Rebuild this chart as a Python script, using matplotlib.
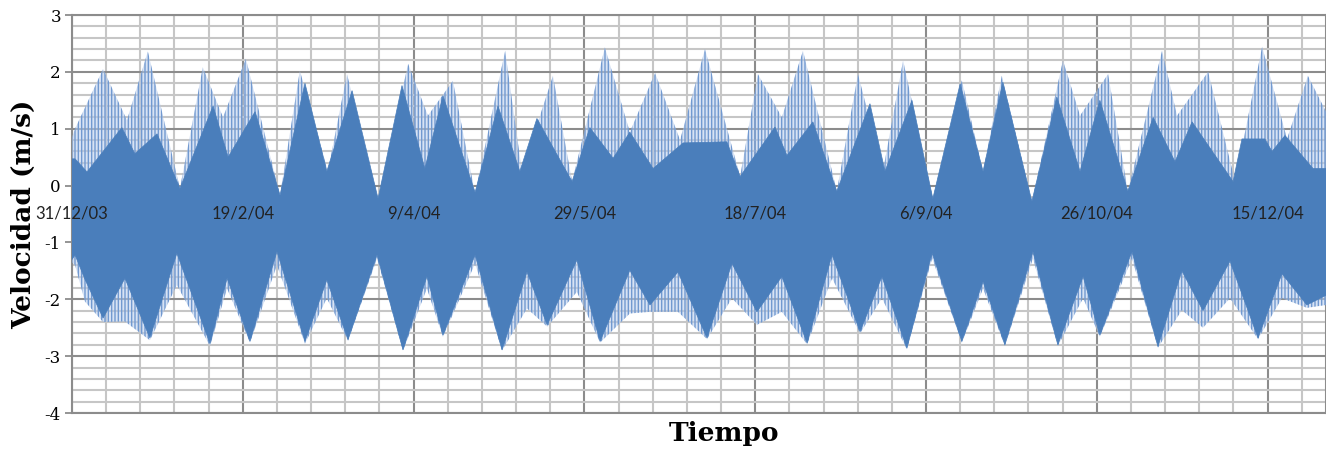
import numpy as np
import matplotlib
matplotlib.use("Agg")
import matplotlib.pyplot as plt
from matplotlib.ticker import MultipleLocator, FuncFormatter
from datetime import date, timedelta

start = date(2003, 12, 31)

# upper envelope of the whole signal (light band), days from 31/12/03
up_light_days = [0, 0.9, 9.1, 16.1, 22.2, 31.6, 38.3, 44.2, 50.9, 60.9,
                 66.7, 74.9, 80.5, 89.6, 98.4, 104.2, 111.5, 118.0, 126.8, 131.7,
                 140.8, 146.4, 156.0, 163.3, 170.7, 178.0, 185.3, 195.6, 200.8, 207.8,
                 214.0, 223.9, 230.1, 237.4, 243.3, 252.0, 260.5, 266.7, 272.2, 281.0,
                 290.1, 295.1, 303.3, 309.1, 319.1, 323.5, 332.6, 340.5, 348.4, 355.7,
                 361.8, 367.1]
up_light_vals = [0.85, 1.0, 2.05, 1.15, 2.36, -0.05, 2.08, 1.2, 2.23, -0.17,
                 2.02, 0.25, 1.96, -0.23, 2.14, 1.23, 1.84, -0.14, 2.37, 0.25,
                 1.93, 0.07, 2.43, 0.94, 1.98, 0.8, 2.4, 0.16, 1.96, 1.2,
                 2.37, -0.1, 1.96, 0.25, 2.2, -0.23, 1.85, 0.25, 1.93, -0.28,
                 2.2, 1.23, 1.96, -0.1, 2.37, 1.23, 2.0, 0.07, 2.44, 0.82,
                 1.93, 1.3]

# upper edge of the dense (dark) core
up_dark_days = [0, 0.9, 4.4, 14.6, 18.4, 24.9, 31.6, 41.3, 45.7, 53.6,
                60.9, 68.2, 74.6, 82.0, 89.6, 96.6, 103.3, 108.6, 118.0, 124.7,
                131.1, 136.1, 146.4, 151.6, 158.4, 163.3, 170.1, 178.9, 191.7, 195.6,
                205.8, 209.3, 216.9, 223.9, 233.6, 238.0, 245.9, 252.0, 260.0, 266.7,
                272.5, 281.0, 288.3, 295.1, 300.9, 309.1, 316.5, 322.9, 327.9, 339.9,
                342.5, 349.2, 351.3, 355.1, 363.3, 367.1]
up_dark_vals = [0.47, 0.47, 0.24, 1.02, 0.56, 0.91, -0.05, 1.4, 0.5, 1.3,
                -0.17, 1.8, 0.25, 1.67, -0.23, 1.76, 0.3, 1.58, -0.12, 1.4,
                0.25, 1.18, 0.07, 1.02, 0.48, 0.94, 0.3, 0.75, 0.77, 0.16,
                1.03, 0.53, 1.12, -0.1, 1.44, 0.25, 1.5, -0.23, 1.79, 0.25,
                1.82, -0.28, 1.56, 0.25, 1.5, -0.1, 1.2, 0.42, 1.12, 0.07,
                0.82, 0.82, 0.6, 0.88, 0.3, 0.3]

# lower side: dark core edge and outer (light) envelope
low_days = [0, 0.9, 3.8, 9.1, 15.5, 22.8, 30.7, 40.4, 45.4, 52.1,
            60.0, 68.2, 74.6, 80.8, 89.3, 96.9, 103.9, 108.6, 118.0, 125.9,
            133.2, 139.1, 147.8, 154.6, 163.3, 169.2, 177.4, 185.9, 193.2, 200.5,
            207.8, 215.2, 222.5, 230.7, 237.1, 244.4, 251.8, 260.5, 266.7, 273.1,
            281.3, 288.6, 296.0, 300.9, 310.3, 317.9, 324.9, 331.1, 339.0, 347.2,
            354.2, 361.5, 367.1]
low_dark_vals = [-1.3, -1.22, -1.65, -2.33, -1.63, -2.68, -1.19, -2.78, -1.63, -2.74,
                 -1.16, -2.74, -1.66, -2.71, -1.22, -2.89, -1.6, -2.63, -1.22, -2.89,
                 -1.52, -2.45, -1.31, -2.74, -1.49, -2.1, -1.52, -2.68, -1.37, -2.22,
                 -1.6, -2.77, -1.22, -2.57, -1.6, -2.86, -1.19, -2.74, -1.69, -2.8,
                 -1.16, -2.8, -1.6, -2.63, -1.16, -2.83, -1.5, -2.2, -1.33, -2.68,
                 -1.55, -2.1, -1.93]
low_light_vals = [-1.35, -1.4, -2.04, -2.4, -2.39, -2.72, -1.75, -2.82, -1.81, -2.76,
                  -1.4, -2.78, -1.98, -2.73, -1.28, -2.9, -1.81, -2.66, -1.37, -2.9,
                  -2.16, -2.48, -1.87, -2.76, -2.25, -2.22, -2.22, -2.7, -1.98, -2.45,
                  -2.22, -2.79, -1.63, -2.6, -1.98, -2.88, -1.28, -2.76, -1.81, -2.82,
                  -1.28, -2.82, -1.98, -2.66, -1.28, -2.85, -2.19, -2.5, -1.98, -2.7,
                  -1.98, -2.15, -2.1]

plt.rcParams['hatch.linewidth'] = 1.0
plt.rcParams['axes.unicode_minus'] = False

fig = plt.figure(figsize=(13.26, 4.55), dpi=100)
rect = [72 / 1326, 1 - 413 / 455, 1 - 72 / 1326, (413 - 15) / 455]
ax_bg = fig.add_axes(rect)
ax = fig.add_axes(rect, sharex=ax_bg, sharey=ax_bg)

ax_bg.set_xlim(0, 367.1)
ax_bg.set_ylim(-4, 3)
ax_bg.xaxis.set_major_locator(MultipleLocator(50))
ax_bg.xaxis.set_minor_locator(MultipleLocator(10))
ax_bg.yaxis.set_major_locator(MultipleLocator(1))
ax_bg.yaxis.set_minor_locator(MultipleLocator(0.2))
ax_bg.grid(which='minor', color='#c6c6c6', linewidth=1.5)
ax_bg.grid(which='major', color='#8c8c8c', linewidth=1.5)
ax_bg.tick_params(which='both', length=0, labelbottom=False, labelleft=False)
for s in ax_bg.spines.values():
    s.set_color('#8c8c8c')
    s.set_linewidth(1.5)
ax_bg.set_xlabel('Tiempo', fontfamily='DejaVu Serif', fontweight='bold',
                 fontsize=19, labelpad=6, x=0.52)

# data layer
ax.patch.set_visible(False)
ax.grid(False)
xl = np.concatenate([up_light_days, low_days[::-1]])
yl = np.concatenate([up_light_vals, low_light_vals[::-1]])
ax.fill(xl, yl, facecolor=(0.72, 0.80, 0.92, 0.55), edgecolor='#7199d0',
        hatch='|||||', linewidth=0)
xd = np.concatenate([up_dark_days, low_days[::-1]])
yd = np.concatenate([up_dark_vals, low_dark_vals[::-1]])
ax.fill(xd, yd, color='#4a7ebb', linewidth=0.5)

for s in ax.spines.values():
    s.set_visible(False)
ax.spines['bottom'].set_position(('data', 0))

ax.xaxis.set_major_formatter(FuncFormatter(
    lambda v, p: (lambda d: f"{d.day}/{d.month}/{d:%y}")(start + timedelta(days=int(round(v))))))
ax.tick_params(axis='x', which='both', length=0, pad=14, labelsize=12,
               labelcolor='#222222', labelfontfamily='Lato')
ax.tick_params(axis='y', which='major', length=5, width=1.3, color='#8c8c8c',
               labelsize=12, labelfontfamily='DejaVu Serif', pad=3)
ax.tick_params(axis='y', which='minor', length=0)
ax.set_ylabel('Velocidad (m/s)', fontfamily='DejaVu Serif', fontweight='bold',
              fontsize=19, labelpad=6)

fig.savefig('out.png', dpi=100)
